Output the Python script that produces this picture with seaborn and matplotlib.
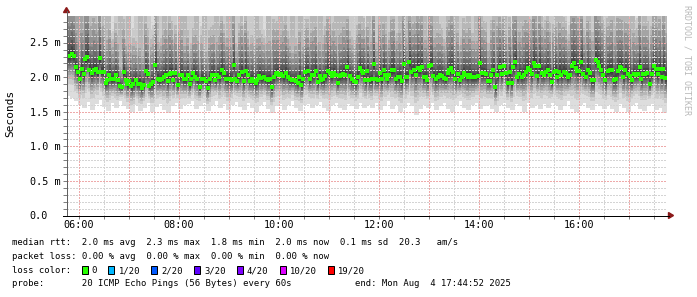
import numpy as np
import pandas as pd
import matplotlib
matplotlib.use("Agg")
import matplotlib.pyplot as plt
import matplotlib.dates as mdates
from matplotlib.patches import Rectangle, Polygon
from matplotlib.lines import Line2D
import seaborn as sns

# ---------------- data ----------------
# median RTT (ms), one value per 2.4 minute step, 05:44:52 -> 17:44:52
median_ms = [
    2.31, 2.31, 2.34, 2.31, 2.15, 2.08, 1.98, 2.12, 2.05, 2.26,
    2.30, 2.11, 2.06, 2.11, 2.12, 2.07, 2.28, 2.08, 2.08, 1.92,
    1.96, 2.03, 1.97, 1.98, 2.03, 1.96, 1.87, 1.86, 2.07, 1.96,
    1.90, 1.95, 1.87, 1.91, 1.96, 1.90, 1.91, 1.85, 1.89, 2.09,
    2.05, 1.87, 1.91, 1.93, 2.18, 1.98, 1.96, 1.98, 2.00,
    2.04, 1.95, 2.05, 2.06, 1.96, 2.06, 1.89, 2.03, 2.04, 1.97,
    1.97, 2.03, 1.90, 1.98, 2.06, 2.01, 1.97, 1.86, 1.98, 1.97,
    1.95, 1.85, 1.97, 2.03, 2.04, 1.96, 2.03, 2.01, 2.10, 2.06,
    1.98, 1.98, 1.98, 1.96, 2.18, 1.97, 1.95, 2.04, 2.08, 1.95,
    2.09, 2.03, 1.95, 1.97, 1.95, 1.92, 1.96, 2.02, 1.99, 2.00,
    1.97, 1.96, 1.97, 1.86, 2.01, 2.05, 2.06, 2.03, 2.05, 2.02,
    2.06, 2.01, 1.97, 1.96, 1.96, 1.95, 1.92, 2.01, 1.89, 1.97,
    2.08, 2.09, 1.97, 2.03, 2.04, 2.09, 1.93, 2.02, 1.96, 1.97,
    2.02, 2.09, 2.06, 2.02, 2.06, 2.04, 1.92, 2.02, 2.03, 2.05,
    2.03, 2.15, 2.02, 1.97, 1.95, 1.93, 2.01, 2.13, 2.09, 2.06,
    1.96, 2.09, 1.96, 1.97, 2.19, 1.97, 1.96, 2.06, 1.97, 2.10,
    2.04, 1.97, 2.04, 2.10, 2.11, 1.97, 2.00, 2.00, 1.95, 2.19,
    2.00, 2.01, 2.22, 2.08, 2.10, 2.04, 2.13, 2.11, 2.15, 2.00,
    2.01, 1.96, 2.16, 2.18, 2.02, 1.98, 2.01, 2.04, 2.02, 1.99,
    1.97, 2.06, 2.10, 2.13, 2.07, 1.97, 2.05, 1.96, 2.01, 2.06,
    2.03, 2.01, 2.04, 2.00, 2.00, 2.00, 2.02, 2.20, 2.06, 2.06,
    2.05, 1.95, 1.95, 2.04, 2.10, 1.86, 2.04, 2.15, 2.05, 2.16,
    2.06, 1.92, 2.07, 1.92, 2.15, 2.22, 2.00, 2.05, 2.01, 2.04,
    2.08, 2.14, 2.10, 2.05, 2.20, 2.16, 2.02, 2.16, 2.06, 2.04,
    2.08, 2.11, 2.04, 1.93, 2.07, 2.09, 2.01, 2.08, 2.04, 2.08,
    2.06, 2.00, 2.03, 2.16, 2.20, 2.14, 2.09, 2.09, 2.22, 2.05,
    2.01, 2.11, 2.06, 1.96, 1.96, 2.25, 2.22, 2.16, 2.11, 2.04,
    1.96, 2.09, 2.10, 2.10, 1.96, 1.98, 2.09, 2.15, 2.14, 2.01,
    2.10, 2.05, 2.02, 1.96, 2.05, 2.04, 2.05, 2.15, 1.98, 2.05,
    2.05, 2.06, 1.91, 2.05, 2.17, 2.12, 2.05, 2.12, 2.00, 2.12,
    1.99,
]

# fastest ping (ms) per 4.8 minute step (bottom edge of the smoke)
smoke_min_ms = [
    1.73, 1.71, 1.66, 1.60, 1.57, 1.65, 1.54, 1.62, 1.68, 1.58, 1.52, 1.63, 1.56, 1.66, 1.59,
    1.55, 1.50, 1.61, 1.52, 1.57, 1.64, 1.51, 1.58, 1.62, 1.54, 1.49, 1.59, 1.63, 1.55, 1.60,
    1.62, 1.66, 1.55, 1.59, 1.64, 1.52, 1.60, 1.67, 1.56, 1.62, 1.53, 1.60, 1.65, 1.58, 1.54,
    1.63, 1.57, 1.51, 1.60, 1.65, 1.55, 1.49, 1.59, 1.62, 1.53, 1.60, 1.66, 1.57, 1.52, 1.61,
    1.62, 1.56, 1.60, 1.65, 1.57, 1.52, 1.60, 1.63, 1.57, 1.53, 1.62, 1.59, 1.55, 1.64, 1.57,
    1.60, 1.56, 1.64, 1.53, 1.59, 1.66, 1.55, 1.60, 1.51, 1.57, 1.63, 1.59, 1.46, 1.55, 1.61,
    1.57, 1.63, 1.53, 1.59, 1.64, 1.55, 1.51, 1.60, 1.66, 1.57, 1.53, 1.60, 1.64, 1.55, 1.59,
    1.61, 1.55, 1.50, 1.60, 1.64, 1.57, 1.53, 1.62, 1.59, 1.51, 1.64, 1.57, 1.61, 1.55, 1.62,
    1.57, 1.64, 1.60, 1.53, 1.59, 1.66, 1.55, 1.51, 1.60, 1.64, 1.57, 1.53, 1.62, 1.59, 1.55,
    1.61, 1.55, 1.51, 1.62, 1.57, 1.50, 1.60, 1.64, 1.55, 1.52, 1.59, 1.62, 1.53, 1.57, 1.49,
]

# number of the 20 pings above the top of the chart, per 4.8 minute step
smoke_high_count = [
    5, 5, 4, 4, 3, 3, 3, 2, 2, 3, 3, 1, 2, 3, 2,
    3, 1, 2, 3, 2, 2, 1, 3, 2, 3, 2, 2, 1, 3, 3,
    2, 2, 3, 1, 3, 2, 2, 3, 1, 2, 3, 3, 2, 2, 1,
    2, 2, 3, 2, 1, 3, 2, 2, 3, 1, 2, 3, 2, 3, 2,
    2, 3, 2, 3, 2, 1, 2, 3, 3, 3, 2, 2, 2, 3, 1,
    3, 2, 2, 3, 3, 2, 1, 2, 3, 2, 3, 2, 2, 1, 3,
    2, 3, 3, 2, 2, 1, 2, 3, 2, 2, 3, 2, 3, 2, 1,
    2, 2, 3, 2, 3, 2, 1, 3, 3, 3, 2, 2, 2, 3, 1,
    2, 2, 3, 3, 2, 1, 2, 3, 2, 2, 3, 2, 1, 3, 2,
    2, 3, 2, 2, 3, 2, 3, 1, 2, 3, 2, 2, 3, 2, 3,
]

y_ticks = [0.0, 0.5, 1.0, 1.5, 2.0, 2.5]
y_tick_labels = ["0.0", "0.5 m", "1.0 m", "1.5 m", "2.0 m", "2.5 m"]
x_tick_labels = ["06:00", "08:00", "10:00", "12:00", "14:00", "16:00"]
loss_labels = ["0", "1/20", "2/20", "3/20", "4/20", "10/20", "19/20"]
loss_colors = ["#26ff00", "#00b8ff", "#0059ff", "#5e00ff", "#7e00ff", "#dd00ff", "#ff0000"]
legend_rtt = "median rtt:  2.0 ms avg  2.3 ms max  1.8 ms min  2.0 ms now  0.1 ms sd  20.3   am/s"
legend_loss = "packet loss: 0.00 % avg  0.00 % max  0.00 % min  0.00 % now"
legend_probe = "probe:       20 ICMP Echo Pings (56 Bytes) every 60s"
legend_end = "end: Mon Aug  4 17:44:52 2025"
t_start = pd.Timestamp("2025-08-04 05:44:52")
t_end = pd.Timestamp("2025-08-04 17:44:52")

# ---------------- layout ----------------
W, H = 697, 297
MONO = "DejaVu Sans Mono"
AX_L, AX_R, AX_T, AX_B = 66.5, 666.5, 15.5, 215.5
PX_PER_MS = 69.1
Y_TOP = (AX_B - AX_T) / PX_PER_MS

fig = plt.figure(figsize=(W / 100, H / 100), dpi=100)
fig.patch.set_facecolor("white")
ax = fig.add_axes([AX_L / W, 1 - AX_B / H, (AX_R - AX_L) / W, (AX_B - AX_T) / H])
ax.set_facecolor("white")

def fx(px):
    return px / W

def fy(py):
    return 1 - py / H

# ---------------- smoke ----------------
med_times = pd.date_range(t_start, periods=len(median_ms), freq="144s")
x_num = mdates.date2num(med_times.to_pydatetime())
x_end = mdates.date2num(t_end.to_pydatetime())
xe = np.append(x_num, x_end)

m = np.array(median_ms)
lo = np.repeat(np.array(smoke_min_ms), 2)
nh = np.repeat(np.array(smoke_high_count), 2)
spread = m - lo
r_low = [1.0, 0.70, 0.56, 0.46, 0.38, 0.30, 0.23, 0.16, 0.10, 0.045]
u_high = [2.3, 1.95, 1.6, 1.3, 1.0, 0.75, 0.52, 0.33, 0.18, 0.065]
P = np.zeros((len(m), 20))
for j in range(10):
    P[:, j] = m - spread * r_low[j]
    P[:, 19 - j] = m + spread * u_high[j]
    P[:, 19 - j] = np.where(nh > j, 9.0, P[:, 19 - j])

for i in range(10):
    level = int(190 / 10 * (10 - (i + 1))) + 50
    col = "#%02x%02x%02x" % (level, level, level)
    low = np.append(P[:, i], P[-1, i])
    high = np.append(P[:, 19 - i], P[-1, 19 - i])
    ax.fill_between(xe, low, high, step="post", color=col, linewidth=0,
                    antialiased=False, zorder=1)

# ---------------- grid (drawn over the smoke, like rrdtool) ----------------
dot = (0, (1.0, 1.0))
GRID_MAJOR = "#eeaaaa"
GRID_MINOR = "#d4d4d4"
for k in range(1, 29):
    v = k / 10
    c = GRID_MAJOR if k % 5 == 0 else GRID_MINOR
    ax.axhline(v, color=c, lw=1.0, ls=dot, zorder=3, antialiased=False)
hours = pd.date_range("2025-08-04 06:00", "2025-08-04 17:00", freq="1h")
halves = pd.date_range("2025-08-04 06:30", "2025-08-04 17:30", freq="1h")
for t in halves:
    ax.axvline(mdates.date2num(t.to_pydatetime()), color=GRID_MINOR, lw=1.0, ls=dot,
               zorder=3, antialiased=False)
for t in hours:
    ax.axvline(mdates.date2num(t.to_pydatetime()), color=GRID_MAJOR, lw=1.0, ls=dot,
               zorder=3, antialiased=False)

# ---------------- median (loss colour 0) ----------------
med_df = pd.DataFrame({"time": x_num + 72 / 86400.0, "median": m})
sns.scatterplot(data=med_df, x="time", y="median", marker="s", s=5.5,
                color=loss_colors[0], linewidth=0, ax=ax, zorder=4)

ax.set_xlim(x_num[0], x_end)
ax.set_ylim(0, Y_TOP)
ax.set_xlabel("")
ax.set_ylabel("")
for s in ax.spines.values():
    s.set_visible(False)
ax.set_yticks([k / 10 for k in range(0, 29)])
ax.set_xticks([mdates.date2num(t.to_pydatetime()) for t in list(hours) + list(halves)])
ax.tick_params(axis="y", length=3, width=0.72, color="#808080", direction="out",
               labelleft=False)
ax.tick_params(axis="x", length=2, width=0.72, color="#808080", direction="out",
               labelbottom=False)

# ---------------- axis lines and arrows ----------------
fig.add_artist(Line2D([fx(AX_L), fx(AX_L)], [fy(AX_B), fy(11)], color="#606060",
                      lw=0.72, transform=fig.transFigure))
fig.add_artist(Line2D([fx(62.5), fx(669)], [fy(AX_B), fy(AX_B)], color="black",
                      lw=0.72, transform=fig.transFigure))
fig.add_artist(Polygon([[fx(63.5), fy(12.5)], [fx(69.5), fy(12.5)], [fx(66.5), fy(7.5)]],
                       closed=True, color="#8b1a1a", transform=fig.transFigure))
fig.add_artist(Polygon([[fx(668.5), fy(212.5)], [fx(668.5), fy(218.5)], [fx(673.5), fy(215.5)]],
                       closed=True, color="#8b1a1a", transform=fig.transFigure))

# ---------------- tick labels ----------------
for v, lab in zip(y_ticks, y_tick_labels):
    ypx = AX_B - v * PX_PER_MS
    fig.text(fx(29.5), fy(ypx + 3.7), lab, family=MONO, fontsize=7.3,
             ha="left", va="baseline", color="black")
for lab in x_tick_labels:
    t = pd.Timestamp("2025-08-04 " + lab)
    hrs = (t - t_start).total_seconds() / 3600.0
    xpx = AX_L + hrs * (AX_R - AX_L) / 12.0
    fig.text(fx(xpx), fy(228.3), lab, family=MONO, fontsize=7.3,
             ha="center", va="baseline", color="black")

fig.text(fx(10.5), fy(113), "Seconds", rotation=90, family=MONO, fontsize=8,
         ha="center", va="center", color="black")
fig.text(fx(686.5), fy(60), "RRDTOOL / TOBI OETIKER", rotation=270, family=MONO,
         fontsize=6, ha="center", va="center", color="#b8b8b8")

# ---------------- legend block ----------------
CW = 5.35
X0 = 11.5
FS = 6.4

def mtext(idx, ybase, s, **kw):
    fig.text(fx(X0 + idx * CW), fy(ybase), s, family=MONO, fontsize=FS,
             ha="left", va="baseline", color="black", **kw)

mtext(0, 244.6, legend_rtt)
mtext(0, 258.7, legend_loss)
mtext(0, 273.0, "loss color:")
idx = 13
for lab, col in zip(loss_labels, loss_colors):
    x_sq = X0 + idx * CW + 0.5
    fig.add_artist(Rectangle((fx(x_sq), fy(273.5)), 6 / W, 8 / H, facecolor=col,
                             edgecolor="black", linewidth=0.72,
                             transform=fig.transFigure))
    mtext(idx + 2, 273.0, lab)
    idx += 2 + len(lab) + 2
mtext(0, 286.5, legend_probe)
fig.text(fx(511), fy(286.5), legend_end, family=MONO, fontsize=FS, ha="right",
         va="baseline", color="black")

fig.savefig("out.png", dpi=100, facecolor="white")
